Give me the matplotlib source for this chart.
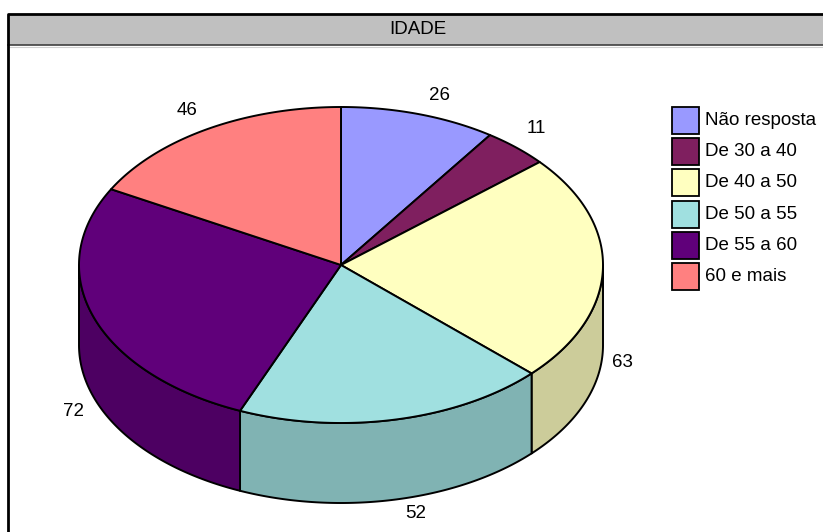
import numpy as np
import matplotlib
matplotlib.use("Agg")
import matplotlib.pyplot as plt
from matplotlib.patches import Polygon, Rectangle
from matplotlib.colors import to_rgb

plt.rcParams['font.family'] = ['Liberation Sans', 'DejaVu Sans']

title = "IDADE"
categories = ["Não resposta", "De 30 a 40", "De 40 a 50", "De 50 a 55", "De 55 a 60", "60 e mais"]
values = [26, 11, 63, 52, 72, 46]
colors = ["#9999FF", "#7F1F5F", "#FFFFC0", "#A0E0E0", "#60007A", "#FF8080"]

W, H = 823, 532
FS = 13.5
fig = plt.figure(figsize=(W / 100, H / 100), dpi=100)
ax = fig.add_axes([0, 0, 1, 1])
ax.set_xlim(0, W)
ax.set_ylim(H, 0)
ax.axis("off")

# chart frame and title bar
ax.add_patch(Rectangle((8, 14), W, 31, facecolor="#C0C0C0", edgecolor="none", zorder=1))
ax.plot([8, W + 5], [45, 45], color="#404040", lw=1.2, zorder=2)
ax.plot([8, W + 5], [46.5, 46.5], color="#D0D0D0", lw=0.8, zorder=2)
ax.plot([8, 8, W + 5], [H + 5, 14, 14], color="black", lw=2.0, zorder=3, solid_capstyle="butt")
ax.text(418, 30, title, ha="center", va="center", fontsize=FS, zorder=4)

# 3D pie geometry (pixel space)
cx, cy = 341, 265
rx, ry = 262, 158
depth = 80


def ellipse_pts(a0, a1, dz=0.0, n=200):
    t = np.radians(np.linspace(a0, a1, n))
    return np.column_stack([cx + rx * np.sin(t), cy - ry * np.cos(t) + dz])


def darker(c, f=0.8):
    return tuple(v * f for v in to_rgb(c))


total = sum(values)
bounds = np.concatenate([[0], np.cumsum(values)]) / total * 360.0
edge_lw = 1.4

# outer walls (front half only)
for i, col in enumerate(colors):
    lo = max(bounds[i], 90.0)
    hi = min(bounds[i + 1], 270.0)
    if hi <= lo:
        continue
    top = ellipse_pts(lo, hi)
    bot = ellipse_pts(hi, lo, dz=depth)
    ax.add_patch(Polygon(np.vstack([top, bot]), closed=True, facecolor=darker(col),
                         edgecolor="black", lw=edge_lw, joinstyle="round", zorder=5))

# top faces
for i, col in enumerate(colors):
    arc = ellipse_pts(bounds[i], bounds[i + 1])
    pts = np.vstack([[cx, cy], arc])
    ax.add_patch(Polygon(pts, closed=True, facecolor=col, edgecolor="black",
                         lw=edge_lw, joinstyle="round", zorder=6))

# value labels, set just outside the slice edge at its mid angle
for i, v in enumerate(values):
    mid = np.radians((bounds[i] + bounds[i + 1]) / 2)
    s, c = np.sin(mid), np.cos(mid)
    x = cx + rx * s + 20 * np.sign(s)
    y = cy - ry * c
    if c < 0.1:
        y += depth + 14
    else:
        y -= 19
    ax.text(x, y, str(v), ha="center", va="center", fontsize=FS, zorder=7)

# legend
lx, ly, box, pitch = 672, 107, 27, 31.2
for i, (lab, col) in enumerate(zip(categories, colors)):
    y0 = ly + i * pitch
    ax.add_patch(Rectangle((lx, y0), box, box, facecolor=col, edgecolor="black",
                           lw=1.3, zorder=7))
    ax.text(lx + box + 6, y0 + box / 2, lab, ha="left", va="center", fontsize=FS, zorder=7)

fig.savefig("out.png", dpi=100)
